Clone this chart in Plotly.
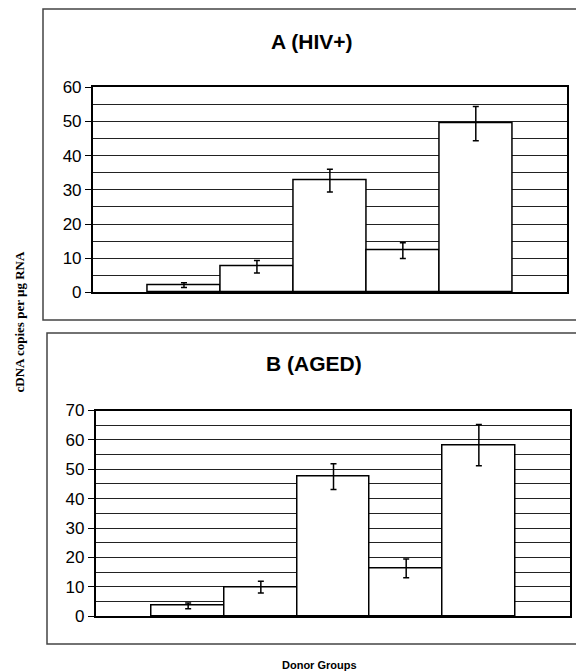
import plotly.graph_objects as go

# ---- data ----
groups = ["Group 1", "Group 2", "Group 3", "Group 4", "Group 5"]
hiv_means = [2.1, 7.5, 32.7, 12.2, 49.4]
hiv_err = [0.7, 1.8, 3.3, 2.3, 5.0]
aged_means = [3.5, 9.9, 47.5, 16.3, 58.2]
aged_err = [1.0, 2.0, 4.4, 3.2, 7.0]
hiv_ticks = [0, 10, 20, 30, 40, 50, 60]
aged_ticks = [0, 10, 20, 30, 40, 50, 60, 70]

W, H = 576, 671


def px(x):
    return x / W


def py(y):
    return 1 - y / H


fig = go.Figure()

bar_style = dict(
    marker=dict(color="white", line=dict(color="black", width=1.5)),
    width=1.0,
    showlegend=False,
    hoverinfo="skip",
)
err_style = dict(type="data", visible=True, color="black", thickness=1.5, width=3)

fig.add_trace(go.Bar(x=groups, y=hiv_means, error_y=dict(array=hiv_err, **err_style),
                     xaxis="x", yaxis="y", **bar_style))
fig.add_trace(go.Bar(x=groups, y=aged_means, error_y=dict(array=aged_err, **err_style),
                     xaxis="x2", yaxis="y2", **bar_style))

grid_col = "#222222"
common_y = dict(
    showgrid=True, gridcolor=grid_col, gridwidth=1.2,
    minor=dict(dtick=5, showgrid=True, gridcolor=grid_col, gridwidth=1.2, ticks=""),
    showline=True, linecolor="black", linewidth=1.5, mirror=True,
    ticks="outside", ticklen=6, tickcolor="black", tickwidth=1,
    tickfont=dict(family="Liberation Sans, Arial", size=17, color="black"),
    zeroline=False, fixedrange=True, automargin=False,
)
common_x = dict(
    showticklabels=False, showgrid=False, ticks="",
    showline=True, linecolor="black", linewidth=1.5, mirror=True,
    zeroline=False, type="category", automargin=False, fixedrange=True,
)

fig.update_layout(
    width=W, height=H, autosize=False,
    margin=dict(l=0, r=0, t=0, b=0, pad=0),
    paper_bgcolor="white", plot_bgcolor="white",
    bargap=0, hovermode=False,
    xaxis=dict(domain=[px(92.7), px(567)], range=[-1.251, 5.25], anchor="y", **common_x),
    yaxis=dict(domain=[py(292.4), py(87.3)], range=[0, 60], tickvals=hiv_ticks,
               anchor="x", **common_y),
    xaxis2=dict(domain=[px(95.5), px(570)], range=[-1.275, 5.254], anchor="y2", **common_x),
    yaxis2=dict(domain=[py(616.2), py(410.5)], range=[0, 70], tickvals=aged_ticks,
                anchor="x2", **common_y),
)

# panel frames
fig.add_shape(type="rect", xref="paper", yref="paper",
              x0=px(43), x1=px(640), y0=py(320), y1=py(9),
              line=dict(color="#444444", width=1.5), fillcolor="rgba(0,0,0,0)", layer="below")
fig.add_shape(type="rect", xref="paper", yref="paper",
              x0=px(47), x1=px(640), y0=py(644), y1=py(333),
              line=dict(color="#444444", width=1.5), fillcolor="rgba(0,0,0,0)", layer="below")

title_font = dict(family="Liberation Sans, Arial", size=21, color="black")
fig.add_annotation(text="<b>A (HIV+)</b>", x=px(311), y=py(41), xref="paper", yref="paper",
                   showarrow=False, font=title_font, xanchor="center", yanchor="middle")
fig.add_annotation(text="<b>B (AGED)</b>", x=px(313.5), y=py(363.5), xref="paper", yref="paper",
                   showarrow=False, font=title_font, xanchor="center", yanchor="middle")
fig.add_annotation(text="<b>Donor Groups</b>", x=px(319), y=py(665), xref="paper", yref="paper",
                   showarrow=False, font=dict(family="Liberation Sans, Arial", size=11, color="black"),
                   xanchor="center", yanchor="middle")
fig.add_annotation(text="<b>cDNA copies per µg RNA</b>", x=px(19), y=py(322.5), xref="paper",
                   yref="paper", showarrow=False, textangle=-90,
                   font=dict(family="Liberation Serif, Times New Roman", size=13, color="black"),
                   xanchor="center", yanchor="middle")

fig.write_html("out.html", config={"responsive": False, "displayModeBar": False},
               post_script="document.body.style.margin='0';document.body.style.overflow='hidden';")
